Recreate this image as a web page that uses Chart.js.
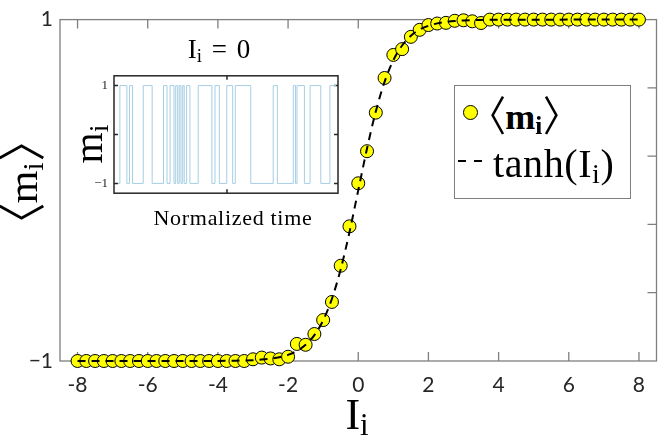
<!DOCTYPE html>
<html>
<head>
<meta charset="utf-8">
<script src="https://cdn.jsdelivr.net/npm/chart.js@4.4.1/dist/chart.umd.min.js"></script>
<style>
  html, body { margin: 0; padding: 0; background: #fff; }
  #wrap { position: relative; width: 664px; height: 440px; overflow: hidden; }
  .tex { position: absolute; font-family: 'Liberation Serif', 'DejaVu Serif', serif; color: #000; white-space: nowrap; }
  .sub { font-size: 0.7em; position: relative; top: 0.2em; }
  .lb, .rb { font-family: 'Noto Sans CJK JP', sans-serif; font-weight: normal; display: inline-block; transform: scaleY(1.15); }
  .lb { margin-left: -0.5em; margin-right: -0.02em; }
  .rb { margin-right: -0.5em; margin-left: 0.02em; }
  #insetWrap { position: absolute; left: 84px; top: 62px; width: 257px; height: 145px; }
  #legendBox { position: absolute; left: 454px; top: 85px; width: 177px; height: 114px; box-sizing: border-box; border: 1px solid #7f7f7f; background: #fff; }
  .dash { position: absolute; height: 2px; background: #000; }
</style>
</head>
<body>
<div id="wrap">
  <canvas id="mainChart" width="664" height="440"></canvas>
  <div id="insetWrap"><canvas id="insetChart" width="257" height="145"></canvas></div>

  <!-- axis titles -->
  <div class="tex" style="left:-41px; top:157px; width:120px; height:50px; line-height:50px; font-size:42px; text-align:center; transform:rotate(-90deg);"><span class="lb">〈</span>m<span class="sub">i</span><span class="rb">〉</span></div>
  <div class="tex" style="left:297px; top:393px; width:120px; line-height:44px; font-size:44px; text-align:center;">I<span class="sub">i</span></div>

  <!-- inset texts -->
  <div class="tex" style="left:159px; top:35px; width:120px; line-height:28px; font-size:27px; word-spacing:3px; text-align:center;">I<span class="sub">i</span> = 0</div>
  <div class="tex" style="left:148px; top:207px; width:170px; line-height:22px; font-size:22px; letter-spacing:0.7px; text-align:center;">Normalized time</div>
  <div class="tex" style="left:49px; top:124px; width:80px; height:40px; line-height:40px; font-size:40px; text-align:center; transform:rotate(-90deg);">m<span class="sub">i</span></div>

  <!-- legend -->
  <div id="legendBox"></div>
  <div style="position:absolute; left:462.5px; top:104.5px; width:15px; height:15px; box-sizing:border-box; border:1px solid #000; border-radius:50%; background:#ffff00;"></div>
  <div class="tex" style="left:488px; top:95px; line-height:36px; font-size:36px;"><span class="lb">〈</span><b>m<span class="sub">i</span></b><span class="rb">〉</span></div>
  <div class="dash" style="left:458px; top:160px; width:8px;"></div>
  <div class="dash" style="left:474px; top:160px; width:8px;"></div>
  <div class="tex" style="left:493px; top:144px; line-height:40px; font-size:40px; letter-spacing:0.6px;">tanh(I<span class="sub">i</span>)</div>
</div>

<script>
// values
const fieldI = [-8, -7.75, -7.5, -7.25, -7, -6.75, -6.5, -6.25, -6, -5.75, -5.5, -5.25,
  -5, -4.75, -4.5, -4.25, -4, -3.75, -3.5, -3.25, -3, -2.75, -2.5, -2.25,
  -2, -1.75, -1.5, -1.25, -1, -0.75, -0.5, -0.25, 0, 0.25, 0.5, 0.75,
  1, 1.25, 1.5, 1.75, 2, 2.25, 2.5, 2.75, 3, 3.25, 3.5, 3.75,
  4, 4.25, 4.5, 4.75, 5, 5.25, 5.5, 5.75, 6, 6.25, 6.5, 6.75,
  7, 7.25, 7.5, 7.75, 8];
const meanM = [-1, -1, -1, -1, -1, -1, -1, -1, -1, -1, -1, -1,
  -1, -1, -1, -1, -1, -1, -1, -1, -0.99, -0.98, -0.985, -0.99,
  -0.975, -0.9, -0.905, -0.842, -0.76, -0.654, -0.442, -0.211, 0.041, 0.229, 0.455, 0.658,
  0.793, 0.827, 0.899, 0.94, 0.968, 0.977, 0.981, 0.993, 0.996, 0.99, 0.98, 1,
  1, 1, 1, 1, 1, 1, 1, 1, 1, 1, 1, 1,
  1, 1, 1, 1, 1];

const curveI = [-8, -4, -3.5, -3, -2.75, -2.5, -2.25, -2, -1.75, -1.5, -1.25, -1, -0.75, -0.5, -0.25,
  0, 0.25, 0.5, 0.75, 1, 1.25, 1.5, 1.75, 2, 2.25, 2.5, 2.75, 3, 3.5, 4, 8];
const curveTanh = [-1, -0.9993, -0.9982, -0.9951, -0.9919, -0.9866, -0.978, -0.964, -0.9414, -0.9051, -0.8483, -0.7616, -0.6351, -0.4621, -0.2449,
  0, 0.2449, 0.4621, 0.6351, 0.7616, 0.8483, 0.9051, 0.9414, 0.964, 0.978, 0.9866, 0.9919, 0.9951, 0.9982, 0.9993, 1];

const mainXTicks = [-8, -6, -4, -2, 0, 2, 4, 6, 8];
const mainYTicks = [-1, -0.6, -0.2, 0.2, 0.6, 1];

// inset: one spin's trace at I_i = 0
const traceTime = [0, 0.009, 0.041, 0.053, 0.067, 0.116, 0.157, 0.209, 0.225, 0.239, 0.257, 0.265,
  0.274, 0.281, 0.289, 0.297, 0.304, 0.315, 0.33, 0.368, 0.431, 0.445, 0.465, 0.499,
  0.526, 0.538, 0.609, 0.712, 0.731, 0.804, 0.814, 0.821, 0.855, 0.881, 0.93, 0.972, 1];
const traceM = [-1, 1, -1, 1, -1, 1, -1, 1, -1, 1, -1, 1,
  -1, 1, -1, 1, -1, 1, -1, 1, -1, 1, -1, 1,
  -1, 1, -1, 1, -1, 1, -1, 1, -1, 1, -1, 1, 1];
const insetXTicks = [0.5];
const insetYTicks = [-1, 0, 1];

Chart.defaults.font.family = 'Lato';

// matlab style box with inward ticks
function frame(id, color, width, len, xTicks, yTicks, leftTicks) {
  return {
    id: id,
    beforeDatasetsDraw(chart) {
      const { ctx, chartArea: a, scales } = chart;
      ctx.save();
      ctx.strokeStyle = color;
      ctx.lineWidth = width;
      ctx.strokeRect(a.left, a.top, a.right - a.left, a.bottom - a.top);
      ctx.beginPath();
      xTicks.forEach(v => {
        const x = scales.x.getPixelForValue(v);
        ctx.moveTo(x, a.bottom); ctx.lineTo(x, a.bottom - len);
        ctx.moveTo(x, a.top); ctx.lineTo(x, a.top + len);
      });
      yTicks.forEach(v => {
        const y = scales.y.getPixelForValue(v);
        ctx.moveTo(a.right, y); ctx.lineTo(a.right - len, y);
        if (leftTicks) { ctx.moveTo(a.left, y); ctx.lineTo(a.left + len, y); }
      });
      ctx.stroke();
      ctx.restore();
    }
  };
}

const mainChart = new Chart(document.getElementById('mainChart'), {
  type: 'scatter',
  data: {
    datasets: [
      {
        label: 'tanh(I_i)',
        data: curveI.map((x, i) => ({ x: x, y: curveTanh[i] })),
        showLine: true,
        borderColor: '#000',
        borderWidth: 2,
        borderDash: [8, 6],
        pointRadius: 0,
        cubicInterpolationMode: 'monotone',
        clip: false,
        order: 0
      },
      {
        label: '<m_i>',
        data: fieldI.map((x, i) => ({ x: x, y: meanM[i] })),
        showLine: false,
        pointRadius: 6.5,
        pointBackgroundColor: '#ffff00',
        pointBorderColor: '#000',
        pointBorderWidth: 1,
        clip: false,
        order: 1
      }
    ]
  },
  options: {
    responsive: false,
    animation: false,
    layout: { padding: { top: 6, right: 1, left: 0, bottom: 0 } },
    plugins: { legend: { display: false }, tooltip: { enabled: false } },
    scales: {
      x: {
        type: 'linear', min: -8.5, max: 8.5,
        grid: { display: false, drawTicks: false },
        border: { display: false },
        afterBuildTicks: s => { s.ticks = mainXTicks.map(v => ({ value: v })); },
        afterFit: s => { s.height = 79; },
        ticks: { padding: 12, color: '#262626', font: { size: 21 }, maxRotation: 0, callback: v => String(v) }
      },
      y: {
        type: 'linear', min: -1, max: 1,
        grid: { display: false, drawTicks: false },
        border: { display: false },
        afterBuildTicks: s => { s.ticks = mainYTicks.map(v => ({ value: v })); },
        afterFit: s => { s.width = 60; },
        ticks: { padding: 7, color: '#262626', font: { size: 21 },
          callback: v => (v === 1 ? '1' : (v === -1 ? '\u22121' : '')) }
      }
    }
  },
  plugins: [frame('mainFrame', '#7f7f7f', 1.3, 9, mainXTicks, mainYTicks.slice(1, -1), false)]
});

const insetChart = new Chart(document.getElementById('insetChart'), {
  type: 'line',
  data: {
    datasets: [{
      label: 'm_i',
      data: traceTime.map((t, i) => ({ x: t, y: traceM[i] })),
      stepped: true,
      borderColor: '#a6cee3',
      borderWidth: 1,
      pointRadius: 0,
      fill: false
    }]
  },
  options: {
    responsive: false,
    animation: false,
    layout: { padding: { top: 3, right: 3, left: 0, bottom: 0 } },
    plugins: { legend: { display: false }, tooltip: { enabled: false } },
    scales: {
      x: {
        type: 'linear', min: -0.018, max: 1.009,
        grid: { display: false, drawTicks: false },
        border: { display: false },
        ticks: { display: false },
        afterBuildTicks: s => { s.ticks = insetXTicks.map(v => ({ value: v })); },
        afterFit: s => { s.height = 3; }
      },
      y: {
        type: 'linear', min: -1.2, max: 1.2,
        grid: { display: false, drawTicks: false },
        border: { display: false },
        afterBuildTicks: s => { s.ticks = insetYTicks.map(v => ({ value: v })); },
        afterFit: s => { s.width = 30; },
        ticks: { padding: 6, color: '#262626', font: { family: "'Liberation Serif', serif", size: 13 },
          callback: v => (v === 1 ? '1' : (v === -1 ? '\u22121' : '')) }
      }
    }
  },
  plugins: [frame('insetFrame', '#262626', 1.5, 4, insetXTicks, insetYTicks, true)]
});
</script>
</body>
</html>
